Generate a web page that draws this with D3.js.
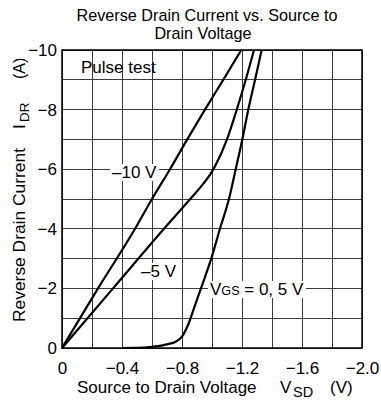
<!DOCTYPE html>
<html>
<head>
<meta charset="utf-8">
<script src="https://cdn.jsdelivr.net/npm/d3@7"></script>
<style>
  html, body { margin: 0; padding: 0; background: #fff; }
  svg { display: block; font-family: "Liberation Sans", Arial, Helvetica, sans-serif; }
</style>
</head>
<body>
<svg id="chart" width="381" height="406"></svg>
<script>
// Source-to-drain voltage V_SD (V) and reverse drain current I_DR (A) per gate bias
const vgsMinus10V = [0, -0.24, -0.487, -0.60, -0.72, -0.835, -0.953, -1.075, -1.195];
const idrMinus10V = [0, -2, -4, -5, -6, -7, -8, -9, -10];

const vgsMinus5V = [0, -0.34, -0.68, -0.855, -0.94, -0.985, -1.02, -1.10, -1.165, -1.225, -1.28];
const idrMinus5V = [0, -2, -4, -5, -5.5, -5.8, -6.1, -7, -8, -9, -10];

const vgsZero5V = [-0.40, -0.50, -0.60, -0.70, -0.76, -0.80, -0.84, -0.887, -0.942, -0.995, -1.053, -1.113, -1.158, -1.202, -1.242, -1.287, -1.331];
const idrZero5V = [0, -0.005, -0.04, -0.12, -0.22, -0.38, -0.77, -1.44, -2.22, -3.0, -4.0, -5.0, -6.0, -7.0, -8.0, -9.0, -10];

const xTicks = [0, -0.4, -0.8, -1.2, -1.6, -2.0];
const yTicks = [0, -2, -4, -6, -8, -10];
const xGrid = d3.range(0, 11).map(i => -0.2 * i);
const yGrid = d3.range(0, 11).map(i => -i);

const svg = d3.select("#chart");
const FS = 17;
const plotLeft = 62, plotRight = 362, plotTop = 50, plotBottom = 348;

const x = d3.scaleLinear().domain([0, -2]).range([plotLeft, plotRight]);
const y = d3.scaleLinear().domain([0, -10]).range([plotBottom, plotTop]);

// Title (two lines)
const title = svg.append("text").attr("text-anchor", "middle").attr("font-size", 16.2);
title.append("tspan").attr("x", 207).attr("y", 20.5).text("Reverse Drain Current vs. Source to");
title.append("tspan").attr("x", 203).attr("y", 38.5).text("Drain Voltage");

// Grid
const grid = svg.append("g").attr("stroke", "#3a3a3a").attr("stroke-width", 1).attr("shape-rendering", "crispEdges");
grid.selectAll("line.v").data(xGrid).join("line")
  .attr("x1", d => x(d)).attr("x2", d => x(d))
  .attr("y1", plotTop).attr("y2", plotBottom);
grid.selectAll("line.h").data(yGrid).join("line")
  .attr("y1", d => y(d)).attr("y2", d => y(d))
  .attr("x1", plotLeft).attr("x2", plotRight);

// Curves
const line = d3.line().x(d => x(d[0])).y(d => y(d[1])).curve(d3.curveMonotoneX);
const series = [
  d3.zip(vgsMinus10V, idrMinus10V),
  d3.zip(vgsMinus5V, idrMinus5V),
  d3.zip(vgsZero5V, idrZero5V)
];

// Curve labels with white backing
function label(parts, cx, baseline) {
  const g = svg.append("g");
  const t = g.append("text").attr("x", cx).attr("y", baseline).attr("font-size", FS);
  parts.forEach(p => {
    const s = t.append("tspan").text(p.text);
    if (p.small) s.attr("font-size", FS * 0.74);
  });
  const b = t.node().getBBox();
  g.insert("rect", "text")
    .attr("x", b.x - 2).attr("y", b.y + 1).attr("width", b.width + 4).attr("height", b.height - 2)
    .attr("fill", "#fff");
}
label([{ text: "\u201310 V" }], 112, 178);
label([{ text: "\u20135 V" }], 141, 277);
label([{ text: "V" }, { text: "GS", small: true }, { text: " = 0, 5 V" }], 210, 295);

svg.append("g").selectAll("path").data(series).join("path")
  .attr("d", line)
  .attr("fill", "none").attr("stroke", "#000").attr("stroke-width", 2.2)
  .attr("stroke-linejoin", "round");

// "Pulse test" note
svg.append("text").attr("x", 81).attr("y", 73).attr("font-size", FS).text("Pulse test");

// Frame
svg.append("rect").attr("x", plotLeft).attr("y", plotTop).attr("width", plotRight - plotLeft).attr("height", plotBottom - plotTop)
  .attr("fill", "none").attr("stroke", "#000").attr("stroke-width", 1.5);

// Axes
const fmtX = d => d === 0 ? "0" : d3.format(".1f")(d);
const fmtY = d => d === 0 ? "0" : d3.format("d")(d);
const xAxis = svg.append("g").attr("transform", `translate(0,${plotBottom})`)
  .call(d3.axisBottom(x).tickValues(xTicks).tickFormat(fmtX).tickSize(0).tickPadding(14));
const yAxis = svg.append("g").attr("transform", `translate(${plotLeft},0)`)
  .call(d3.axisLeft(y).tickValues(yTicks).tickFormat(fmtY).tickSize(0).tickPadding(5));
[xAxis, yAxis].forEach(a => {
  a.select(".domain").remove();
  a.selectAll("text").attr("font-size", FS).attr("font-family", null).attr("fill", "#000");
});

// X axis title
const xt = svg.append("text").attr("x", 77).attr("y", 393).attr("font-size", FS);
xt.append("tspan").text("Source to Drain Voltage");
xt.append("tspan").attr("x", 280).text("V");
xt.append("tspan").attr("x", 293).attr("dy", 4).attr("font-size", 14.5).text("SD");
xt.append("tspan").attr("x", 330).attr("dy", -4).text("(V)");

// Y axis title (reads bottom to top)
const yt = svg.append("text").attr("transform", "translate(25,322) rotate(-90)").attr("font-size", 17.4);
yt.append("tspan").attr("x", 0).text("Reverse Drain Current");
yt.append("tspan").attr("x", 193).text("I");
yt.append("tspan").attr("x", 200).attr("dy", 4).attr("font-size", 13.5).text("DR");
yt.append("tspan").attr("x", 243).attr("dy", -4).attr("font-size", 16).text("(A)");
</script>
</body>
</html>
